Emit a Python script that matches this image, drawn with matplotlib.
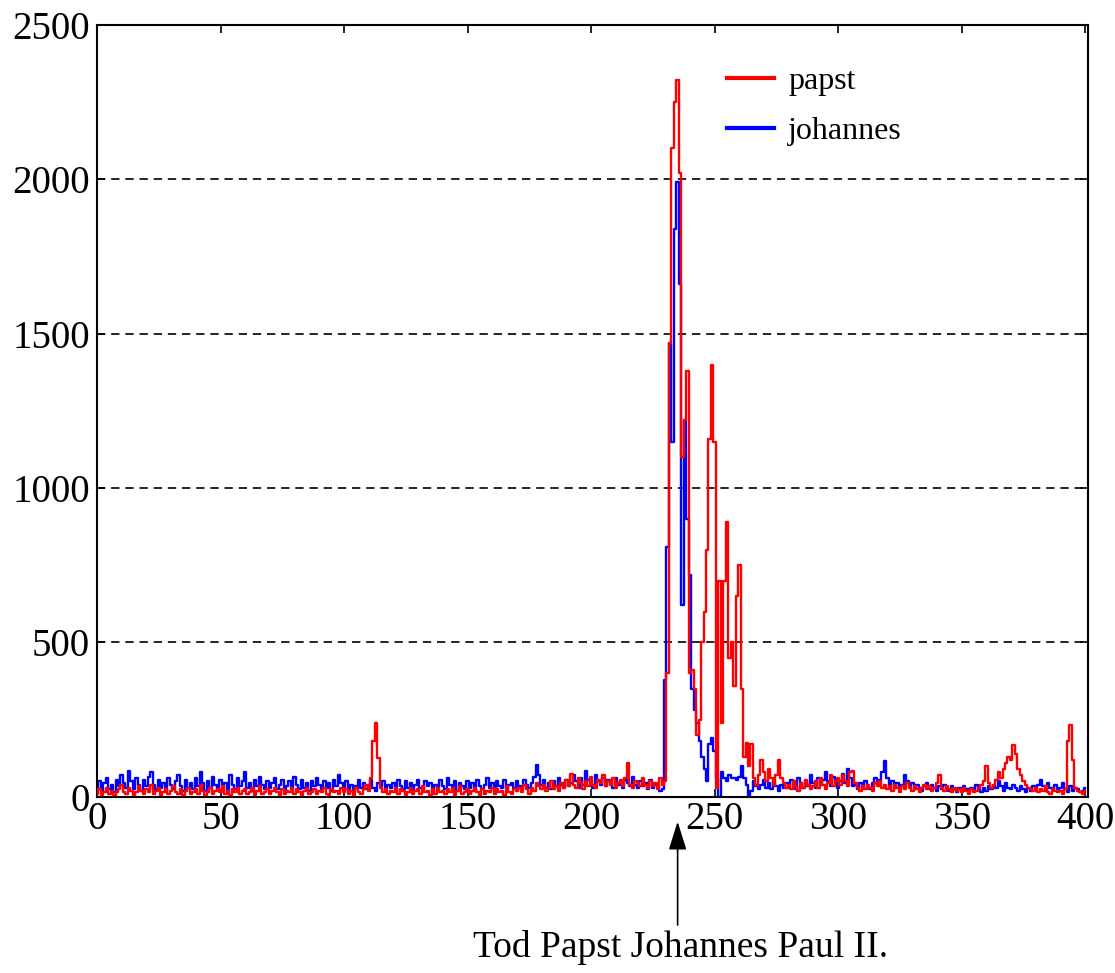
import numpy as np
import matplotlib
matplotlib.use("Agg")
import matplotlib.pyplot as plt

plt.rcParams['font.family'] = ['Liberation Serif', 'DejaVu Serif']

# Tageswerte (Tag 0 .. 400)
papst = [
    10, 25, 5, 15, 30, 10, 20, 5, 15, 25,
    40, 15, 10, 30, 20, 5, 15, 35, 20, 10,
    25, 15, 40, 10, 20, 30, 5, 15, 25, 10,
    20, 35, 15, 10, 25, 5, 20, 30, 10, 15,
    25, 10, 40, 20, 5, 15, 30, 10, 20, 25,
    15, 35, 10, 20, 5, 25, 15, 30, 10, 20,
    25, 10, 15, 30, 5, 20, 35, 10, 15, 25,
    10, 20, 30, 15, 5, 25, 10, 20, 15, 30,
    10, 25, 15, 5, 20, 30, 10, 15, 25, 10,
    20, 15, 30, 10, 5, 25, 15, 20, 10, 30,
    15, 25, 10, 20, 5, 30, 15, 10, 25, 40,
    20, 60, 180, 240, 125, 30, 15, 25, 10, 20,
    15, 30, 10, 25, 20, 5, 15, 30, 10, 20,
    25, 10, 35, 15, 20, 5, 25, 10, 30, 15,
    20, 10, 25, 15, 30, 5, 20, 35, 10, 15,
    25, 10, 20, 30, 15, 5, 25, 10, 20, 15,
    30, 10, 25, 15, 20, 5, 35, 15, 10, 25,
    20, 30, 15, 40, 25, 10, 30, 20, 45, 35,
    25, 40, 20, 30, 50, 25, 35, 20, 45, 30,
    55, 35, 75, 40, 30, 60, 45, 25, 50, 35,
    65, 40, 30, 55, 45, 70, 35, 50, 40, 60,
    30, 45, 55, 35, 60, 110, 40, 30, 50, 45,
    35, 60, 40, 30, 50, 35, 45, 25, 60, 40,
    50, 400, 1470, 2100, 2250, 2320, 2020, 1100, 1220, 1380,
    400, 410, 350, 200, 250, 500, 600, 800, 1160, 1400,
    1150, 30, 700, 240, 700, 890, 450, 500, 360, 650,
    750, 350, 130, 175, 100, 170, 60, 40, 70, 120,
    80, 50, 90, 60, 40, 70, 120, 60, 45, 30,
    40, 25, 50, 35, 20, 45, 30, 55, 40, 25,
    35, 50, 30, 60, 40, 25, 45, 70, 35, 50,
    60, 40, 70, 50, 35, 80, 85, 45, 30, 20,
    35, 25, 40, 30, 20, 45, 35, 50, 30, 40,
    25, 35, 20, 40, 30, 15, 35, 25, 45, 30,
    20, 35, 25, 15, 30, 40, 25, 35, 20, 30,
    45, 70, 30, 20, 35, 25, 15, 30, 20, 25,
    15, 30, 20, 10, 25, 15, 20, 30, 40, 50,
    100, 45, 30, 40, 55, 80, 60, 90, 110, 130,
    120, 168, 140, 90, 70, 50, 40, 30, 25, 20,
    30, 15, 25, 20, 35, 15, 10, 25, 20, 15,
    20, 10, 25, 180, 233, 120, 30, 20, 15, 10,
    20,
]

johannes = [
    30, 50, 20, 45, 60, 25, 40, 15, 55, 35,
    70, 45, 30, 85, 50, 25, 60, 40, 20, 55,
    35, 65, 80, 40, 25, 55, 30, 45, 20, 60,
    40, 25, 50, 70, 35, 20, 55, 30, 45, 25,
    60, 35, 80, 45, 20, 50, 30, 65, 40, 25,
    55, 30, 45, 20, 70, 40, 25, 60, 35, 50,
    80, 30, 45, 20, 55, 35, 65, 40, 25, 50,
    30, 45, 60, 25, 40, 55, 20, 35, 50, 30,
    65, 40, 25, 55, 30, 45, 20, 50, 35, 60,
    40, 25, 50, 30, 45, 20, 55, 35, 70, 45,
    30, 50, 25, 40, 20, 35, 55, 30, 45, 25,
    40, 55, 30, 20, 45, 35, 50, 25, 40, 30,
    45, 20, 55, 35, 25, 50, 30, 45, 20, 40,
    55, 30, 25, 50, 35, 45, 20, 40, 30, 55,
    35, 25, 60, 40, 30, 50, 20, 45, 35, 25,
    50, 30, 45, 20, 55, 35, 25, 40, 60, 30,
    45, 20, 50, 35, 30, 55, 25, 40, 45, 30,
    50, 35, 25, 55, 40, 30, 45, 65, 104, 70,
    40, 55, 30, 45, 25, 50, 35, 60, 40, 30,
    55, 35, 45, 70, 50, 30, 60, 40, 85, 55,
    45, 30, 70, 50, 40, 60, 35, 55, 45, 30,
    60, 40, 50, 30, 55, 45, 35, 65, 40, 30,
    50, 35, 45, 25, 55, 30, 40, 35, 20, 25,
    380, 810, 1470, 1150, 1840, 1990, 1660, 620, 1220, 900,
    720, 350, 280, 240, 180, 130, 90, 50, 170, 190,
    150, 60, 0, 80, 60, 50, 70, 60, 60, 55,
    65, 100, 60, 40, 0, 20, 50, 35, 25, 40,
    55, 30, 45, 25, 50, 35, 20, 40, 30, 45,
    35, 55, 40, 25, 60, 45, 30, 50, 35, 70,
    45, 30, 60, 40, 55, 80, 50, 35, 65, 45,
    30, 50, 75, 45, 90, 60, 35, 40, 25, 45,
    30, 50, 35, 25, 45, 60, 40, 55, 80, 117,
    60, 35, 50, 30, 45, 25, 40, 70, 50, 35,
    45, 25, 40, 30, 20, 35, 45, 25, 40, 30,
    20, 35, 25, 40, 30, 20, 35, 25, 15, 30,
    20, 35, 25, 15, 30, 20, 40, 25, 15, 30,
    20, 35, 25, 40, 30, 50, 35, 20, 45, 30,
    25, 40, 30, 20, 35, 25, 15, 30, 20, 35,
    25, 40, 55, 35, 20, 45, 30, 25, 40, 20,
    30, 45, 25, 15, 35, 20, 30, 25, 15, 20,
    30,
]

x_ticks = [0, 50, 100, 150, 200, 250, 300, 350, 400]
y_ticks = [0, 500, 1000, 1500, 2000, 2500]
tod_tag = 235
beschriftung = "Tod Papst Johannes Paul II."

fig = plt.figure(figsize=(11.15, 9.73), dpi=100)
ax = fig.add_axes([0.087, 0.181, 0.889, 0.7934])

tage_p = np.arange(len(papst))
tage_j = np.arange(len(johannes))
ax.plot(tage_j, johannes, color='#0000ff', lw=1.7, drawstyle='steps-mid', label='johannes', zorder=2)
ax.plot(tage_p, papst, color='#ff0000', lw=1.7, drawstyle='steps-mid', label='papst', zorder=3)

ax.set_xlim(0, 401.2)
ax.set_ylim(0, 2500)
ax.set_xticks(x_ticks)
ax.set_yticks(y_ticks)
ax.tick_params(direction='in', length=6, width=1.2, top=True, right=True,
               labelsize=28, pad=5, colors='black')
ax.tick_params(axis='x', pad=3)

for g in y_ticks[1:-1]:
    ax.axhline(g, color='black', lw=1.2, ls=(0, (5, 3.5)), zorder=1)

for s in ax.spines.values():
    s.set_linewidth(1.5)
    s.set_color('black')

h, l = ax.get_legend_handles_labels()
ax.legend([h[1], h[0]], [l[1], l[0]], loc='upper left', bbox_to_anchor=(0.607, 0.983),
          frameon=False, fontsize=23, handlelength=1.45, handletextpad=0.45,
          labelspacing=0.65)
for line in ax.get_legend().get_lines():
    line.set_linewidth(3)

ax.annotate("", xy=(tod_tag, -0.032), xycoords=('data', 'axes fraction'),
            xytext=(tod_tag, -0.166), textcoords=('data', 'axes fraction'),
            arrowprops=dict(arrowstyle='-|>,head_length=0.7,head_width=0.22',
                            mutation_scale=25, lw=1.2, color='black', shrinkA=0, shrinkB=0),
            annotation_clip=False)
fig.text(0.61, 0.016, beschriftung, ha='center', va='baseline', fontsize=27)

fig.savefig("out.png", dpi=100)
